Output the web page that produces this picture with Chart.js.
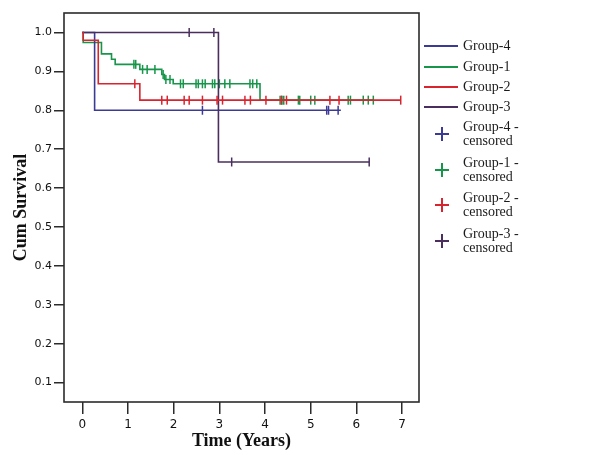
<!DOCTYPE html>
<html><head><meta charset="utf-8">
<script src="https://cdn.jsdelivr.net/npm/chart.js@4.4.1/dist/chart.umd.min.js"></script>
<style>
html,body{margin:0;padding:0;background:#fff;}
#wrap{position:relative;width:589px;height:455px;}
canvas{position:absolute;left:0;top:0;}
#legend{position:absolute;left:0;top:0;width:589px;height:455px;font-family:"Liberation Serif","Times New Roman",serif;font-size:14px;color:#1a1a1a;}
.txt{position:absolute;left:463px;line-height:14px;white-space:nowrap;}
.ln{position:absolute;left:424px;width:34px;height:2px;}
.cr{position:absolute;width:14px;height:14px;}
.cr:before{content:"";position:absolute;left:6px;top:0;width:2px;height:14px;background:currentColor;}
.cr:after{content:"";position:absolute;left:0;top:6px;width:14px;height:2px;background:currentColor;}
</style></head><body>
<div id="wrap"><canvas id="c" width="589" height="455"></canvas><div id="legend"></div></div>
<script>
// ---- data ----
const groupNames = ['Group-4', 'Group-1', 'Group-2', 'Group-3'];
const censoredLabels = [['Group-4 -', 'censored'], ['Group-1 -', 'censored'], ['Group-2 -', 'censored'], ['Group-3 -', 'censored']];
const xTicks = [0, 1, 2, 3, 4, 5, 6, 7];
const yTicks = [0.1, 0.2, 0.3, 0.4, 0.5, 0.6, 0.7, 0.8, 0.9, 1.0];

const g4Times = [0.27];
const g4Surv = [0.80];
const g4Cens = [2.63, 5.35, 5.39, 5.60];
const g4End = 5.66;

const g1Times = [0.02, 0.42, 0.64, 0.72, 1.26, 1.74, 1.80, 1.99, 3.89];
const g1Surv = [0.974, 0.945, 0.931, 0.918, 0.905, 0.892, 0.879, 0.868, 0.826];
const g1Cens = [1.13, 1.17, 1.32, 1.42, 1.59, 1.77, 1.83, 1.92, 2.15, 2.21, 2.49, 2.54, 2.63, 2.69, 2.85, 2.90, 3.00, 3.12, 3.23, 3.67, 3.73, 3.82, 4.33, 4.37, 4.41, 4.73, 4.76, 5.00, 5.09, 5.82, 5.87, 6.15, 6.26, 6.37];
const g1End = 6.37;

const g2Times = [0.02, 0.35, 1.26];
const g2Surv = [0.98, 0.868, 0.826];
const g2Cens = [1.15, 1.74, 1.86, 2.23, 2.34, 2.63, 2.95, 3.07, 3.56, 3.68, 4.02, 4.36, 4.47, 5.42, 5.62, 6.97];
const g2End = 6.97;

const g3Times = [2.98];
const g3Surv = [0.667];
const g3Cens = [2.34, 2.88, 3.27, 6.28];
const g3End = 6.28;

const colors = ['#3b3b96', '#17954b', '#d8242f', '#4a2f5e'];

// ---- helpers ----
function kmPath(times, surv, end) {
  const pts = [{x: 0, y: 1}];
  let prev = 1;
  for (let i = 0; i < times.length; i++) {
    pts.push({x: times[i], y: prev});
    pts.push({x: times[i], y: surv[i]});
    prev = surv[i];
  }
  pts.push({x: end, y: prev});
  return pts;
}
function survAt(times, surv, t) {
  let s = 1;
  for (let i = 0; i < times.length; i++) if (times[i] <= t) s = surv[i];
  return s;
}
function censPts(times, surv, cens) {
  return cens.map(t => ({x: t, y: survAt(times, surv, t)}));
}

const groups = [
  [g4Times, g4Surv, g4Cens, g4End],
  [g1Times, g1Surv, g1Cens, g1End],
  [g2Times, g2Surv, g2Cens, g2End],
  [g3Times, g3Surv, g3Cens, g3End]
];
const drawOrder = [3, 4, 1, 2]; // lower drawn on top
const datasets = [];
groups.forEach((g, i) => {
  datasets.push({
    label: groupNames[i], data: kmPath(g[0], g[1], g[3]), showLine: true,
    borderColor: colors[i], borderWidth: 1.6, pointRadius: 0, fill: false, tension: 0,
    order: drawOrder[i] * 2
  });
});
groups.forEach((g, i) => {
  datasets.push({
    label: censoredLabels[i].join(' '), data: censPts(g[0], g[1], g[2]), showLine: false,
    borderColor: colors[i], backgroundColor: colors[i], pointStyle: 'line', rotation: 90,
    pointRadius: 4.5, borderWidth: 1.5, order: drawOrder[i] * 2 - 1
  });
});

const frame = {
  id: 'frame',
  afterDatasetsDraw(chart) {
    const a = chart.chartArea, ctx = chart.ctx;
    ctx.save();
    ctx.strokeStyle = '#2b2b2b';
    ctx.lineWidth = 1.6;
    ctx.strokeRect(a.left, a.top, a.right - a.left, a.bottom - a.top);
    ctx.restore();
  }
};

new Chart(document.getElementById('c'), {
  type: 'scatter',
  data: {datasets},
  options: {
    responsive: false, animation: false,
    layout: {padding: {top: 13, right: 170, left: 0, bottom: 0}},
    plugins: {legend: {display: false}, tooltip: {enabled: false}},
    scales: {
      x: {
        type: 'linear', min: -0.4, max: 7.37,
        afterBuildTicks: s => { s.ticks = xTicks.map(v => ({value: v})); },
        afterFit: s => { s.height = 53; },
        grid: {drawOnChartArea: false, drawTicks: true, tickLength: 12, color: '#2b2b2b', lineWidth: 1.5},
        border: {display: false},
        ticks: {font: {family: '"DejaVu Sans", sans-serif', size: 12}, color: '#111', padding: 4, callback: v => String(v)},
        title: {display: true, text: 'Time (Years)', color: '#111',
          font: {family: '"Liberation Serif", serif', size: 18, weight: 'bold'}, padding: {top: 0, bottom: 3}}
      },
      y: {
        type: 'linear', min: 0.05, max: 1.05,
        afterBuildTicks: s => { s.ticks = yTicks.map(v => ({value: v})); },
        afterFit: s => { s.width = 64; },
        grid: {drawOnChartArea: false, drawTicks: true, tickLength: 10, color: '#2b2b2b', lineWidth: 1.5},
        border: {display: false},
        ticks: {font: {family: '"DejaVu Sans", sans-serif', size: 11}, color: '#111', padding: 2, callback: v => Number(v).toFixed(1)},
        title: {display: true, text: 'Cum Survival', color: '#111',
          font: {family: '"Liberation Serif", serif', size: 18, weight: 'bold'}, padding: {top: 11, bottom: 0}}
      }
    }
  },
  plugins: [frame]
});

// ---- HTML legend ----
const leg = document.getElementById('legend');
const lineY = [46, 66.5, 87, 107];
const crossY = [134, 169.5, 205, 240.5];
groupNames.forEach((n, i) => {
  const l = document.createElement('div');
  l.className = 'ln'; l.style.top = (lineY[i] - 1) + 'px'; l.style.background = colors[i];
  leg.appendChild(l);
  const t = document.createElement('div');
  t.className = 'txt'; t.style.top = (lineY[i] - 8) + 'px'; t.style.lineHeight = '16px'; t.textContent = n;
  leg.appendChild(t);
});
censoredLabels.forEach((lines, i) => {
  const c = document.createElement('div');
  c.className = 'cr'; c.style.left = '435px'; c.style.top = (crossY[i] - 7) + 'px'; c.style.color = colors[i];
  leg.appendChild(c);
  const t = document.createElement('div');
  t.className = 'txt'; t.style.top = (crossY[i] - 14) + 'px';
  t.innerHTML = lines.join('<br>');
  leg.appendChild(t);
});
</script>
</body></html>
